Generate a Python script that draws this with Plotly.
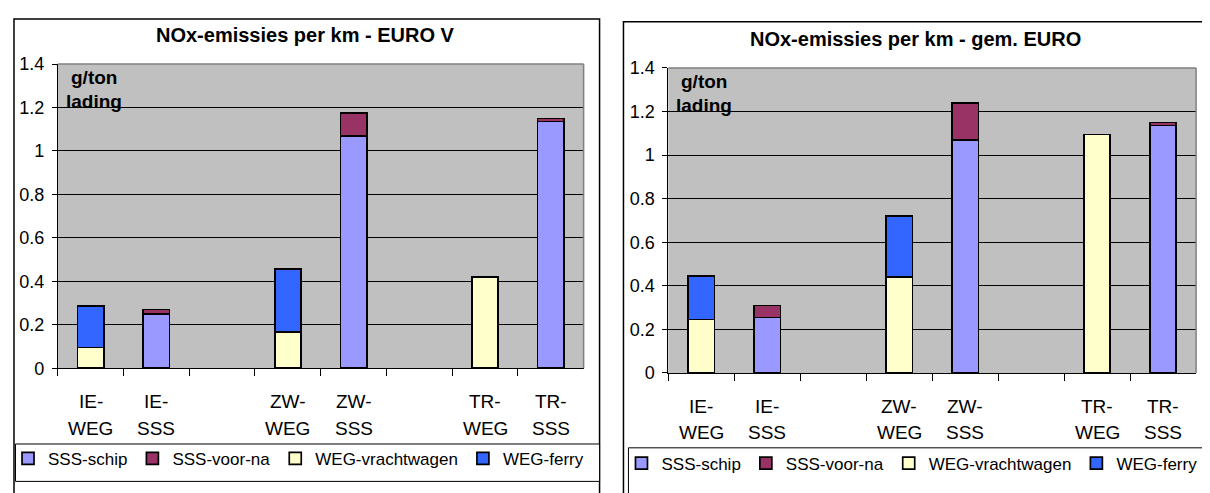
import plotly.graph_objects as go

categories = ["IE-<br>WEG", "IE-<br>SSS", " ", "ZW-<br>WEG", "ZW-<br>SSS", "  ", "TR-<br>WEG", "TR-<br>SSS"]
label_top = ["IE-", "IE-", "", "ZW-", "ZW-", "", "TR-", "TR-"]
label_bottom = ["WEG", "SSS", "", "WEG", "SSS", "", "WEG", "SSS"]

series_names = ["SSS-schip", "SSS-voor-na", "WEG-vrachtwagen", "WEG-ferry"]
series_colors = ["#9999FF", "#993366", "#FFFFCC", "#3366FF"]

# EURO V
euro5_schip = [None, 0.25, None, None, 1.07, None, None, 1.135]
euro5_voorna = [None, 0.02, None, None, 0.105, None, None, 0.015]
euro5_vracht = [0.095, None, None, 0.165, None, None, 0.42, None]
euro5_ferry = [0.19, None, None, 0.29, None, None, None, None]

# gem. EURO
gem_schip = [None, 0.255, None, None, 1.07, None, None, 1.135]
gem_voorna = [None, 0.055, None, None, 0.17, None, None, 0.015]
gem_vracht = [0.245, None, None, 0.44, None, None, 1.095, None]
gem_ferry = [0.20, None, None, 0.28, None, None, None, None]

titles = ["NOx-emissies per km - EURO V", "NOx-emissies per km - gem. EURO"]
unit_lines = ["g/ton", "lading"]

W, H = 1210, 493
OX, OY = 8, 8  # page body margin offset


def px(x):
    return (x - OX) / W


def py(y):
    return 1 - (y - OY) / H


FONT = "Arial, Liberation Sans, sans-serif"

fig = go.Figure()

panels = [
    dict(data=[euro5_schip, euro5_voorna, euro5_vracht, euro5_ferry], xa="x", ya="y", leg="legend",
         x0=53, x1=581, yt=56, yb=373, title_cx=302, title_cy=26),
    dict(data=[gem_schip, gem_voorna, gem_vracht, gem_ferry], xa="x2", ya="y2", leg="legend2",
         x0=666, x1=1196, yt=60, yb=378, title_cx=914, title_cy=30),
]

for p in panels:
    for name, color, vals in zip(series_names, series_colors, p["data"]):
        fig.add_trace(go.Bar(
            x=categories, y=vals, name=name, xaxis=p["xa"], yaxis=p["ya"],
            marker=dict(color=color, line=dict(color="black", width=1.7)),
            legend=p["leg"], hoverinfo="skip",
        ))

tickfont = dict(family=FONT, size=18, color="black")
xlabfont = dict(family=FONT, size=19, color="black")
axis_common_x = dict(type="category", categoryorder="array", categoryarray=categories,
                     range=[-0.5, 7.5], showticklabels=False, ticks="outside", ticklen=7,
                     tickson="boundaries", tickcolor="black", showline=True, linecolor="black",
                     linewidth=1, showgrid=False, zeroline=False, fixedrange=True)
axis_common_y = dict(range=[0, 1.4], dtick=0.2, tick0=0, ticks="outside", ticklen=5,
                     tickcolor="black", showline=True, linecolor="black", linewidth=1,
                     showgrid=True, gridcolor="black", gridwidth=1, zeroline=False,
                     tickfont=tickfont, ticklabelstandoff=4, fixedrange=True)

layout = dict(
    width=W, height=H, margin=dict(l=0, r=0, t=0, b=0),
    paper_bgcolor="white", plot_bgcolor="#C0C0C0",
    barmode="stack", bargap=0.6, showlegend=True,
    font=dict(family=FONT, color="black"),
)
layout["xaxis"] = dict(axis_common_x, domain=[px(53), px(581)], anchor="y")
layout["yaxis"] = dict(axis_common_y, domain=[py(373), py(56)], anchor="x")
layout["xaxis2"] = dict(axis_common_x, domain=[px(666), px(1196)], anchor="y2")
layout["yaxis2"] = dict(axis_common_y, domain=[py(378), py(60)], anchor="x2")

legfont = dict(family=FONT, size=17, color="black")
layout["legend"] = dict(orientation="h", x=px(3), y=py(467.5), xanchor="left", yanchor="middle",
                        font=legfont, bgcolor="rgba(0,0,0,0)", borderwidth=0,
                        itemwidth=30, tracegroupgap=0, traceorder="normal", itemclick=False)
layout["legend2"] = dict(orientation="h", x=px(619), y=py(472.5), xanchor="left", yanchor="middle",
                         font=legfont, bgcolor="rgba(0,0,0,0)", borderwidth=0,
                         itemwidth=30, tracegroupgap=0, traceorder="normal", itemclick=False)
fig.update_layout(**layout)

shapes = []
annotations = []
# outer chart borders
shapes.append(dict(type="rect", xref="paper", yref="paper", x0=px(9), x1=px(597), y0=py(520), y1=py(9),
                   line=dict(color="black", width=1.5), fillcolor="rgba(0,0,0,0)", layer="below"))
shapes.append(dict(type="rect", xref="paper", yref="paper", x0=px(621), x1=px(1240), y0=py(520), y1=py(12),
                   line=dict(color="black", width=1.5), fillcolor="rgba(0,0,0,0)", layer="below"))
# legend boxes
shapes.append(dict(type="rect", xref="paper", yref="paper", x0=px(10.5), x1=px(597), y0=py(491), y1=py(452),
                   line=dict(color="black", width=1), fillcolor="white", layer="below"))
shapes.append(dict(type="rect", xref="paper", yref="paper", x0=px(626), x1=px(1240), y0=py(520), y1=py(456),
                   line=dict(color="black", width=1), fillcolor="white", layer="below"))

for i, p in enumerate(panels):
    # plot area border (gray top/right)
    shapes.append(dict(type="line", xref="paper", yref="paper", x0=px(p["x0"]), x1=px(p["x1"]),
                       y0=py(p["yt"]), y1=py(p["yt"]), line=dict(color="#808080", width=1.5), layer="above"))
    shapes.append(dict(type="line", xref="paper", yref="paper", x0=px(p["x1"]), x1=px(p["x1"]),
                       y0=py(p["yt"]), y1=py(p["yb"]), line=dict(color="#808080", width=1.5), layer="above"))
    annotations.append(dict(text="<b>" + titles[i] + "</b>", xref="paper", yref="paper",
                            x=px(p["title_cx"]), y=py(p["title_cy"]), xanchor="center", yanchor="middle",
                            showarrow=False, font=dict(size=20, family=FONT, color="black")))
    for j, line in enumerate(unit_lines):
        annotations.append(dict(text="<b>" + line + "</b>", xref="paper", yref="paper",
                                x=px(p["x0"] + 36), y=py(p["yt"] + 14 + j * 25), xanchor="center",
                                yanchor="middle", showarrow=False,
                                font=dict(size=19, family=FONT, color="black")))
    xr = "x" if i == 0 else "x2"
    for cat, t1, t2 in zip(categories, label_top, label_bottom):
        if not t1:
            continue
        annotations.append(dict(text=t1, xref=xr, yref="paper", x=cat, y=py(p["yb"] + 35),
                                xanchor="center", yanchor="middle", showarrow=False, font=xlabfont))
        annotations.append(dict(text=t2, xref=xr, yref="paper", x=cat, y=py(p["yb"] + 62.5),
                                xanchor="center", yanchor="middle", showarrow=False, font=xlabfont))

fig.update_layout(shapes=shapes, annotations=annotations)
fig.write_html("out.html")
